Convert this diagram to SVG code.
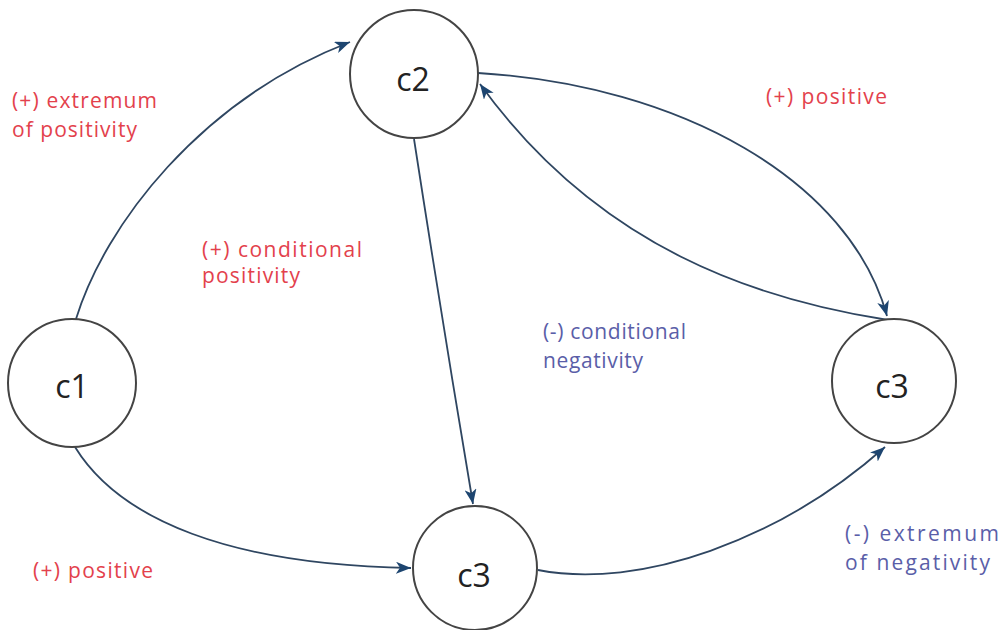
<svg xmlns="http://www.w3.org/2000/svg" width="1002" height="630" viewBox="0 0 1002 630">
<defs>
<style>
.node circle{fill:#fff;stroke:#444;stroke-width:2}
.node text{font-family:"Open Sans","Liberation Sans",sans-serif;font-size:32px;fill:#222;text-anchor:middle}
.edge{fill:none;stroke:#2f4661;stroke-width:1.8;marker-end:url(#arr)}
.lbl{font-family:"Open Sans","Liberation Sans",sans-serif;font-size:21px}
.pos{fill:#e3414c}
.neg{fill:#5a5ea8}
</style>
<marker id="arr" markerWidth="16" markerHeight="12" refX="15" refY="6" orient="auto" markerUnits="userSpaceOnUse">
<path d="M0,0 L15,6 L0,12 L4,6 Z" fill="#1d4570"/>
</marker>
</defs>
<rect width="1002" height="630" fill="#fff"/>
<g id="connectors">
<path class="edge" d="M76,319 C105,225 200,100 350,42"/>
<path class="edge" d="M414,139 Q442,320 473,504"/>
<path class="edge" d="M478,73 C680,85 850,180 887,316"/>
<path class="edge" d="M888,320 C760,300 600,250 480,84"/>
<path class="edge" d="M75,447 C120,520 230,565 411,568"/>
<path class="edge" d="M538,570 C640,590 780,540 885,447"/>
</g>
<g id="c1" class="node"><circle cx="72" cy="383" r="64"/><text x="72" y="398">c1</text></g>
<g id="c2" class="node"><circle cx="414" cy="74" r="64"/><text x="413" y="91">c2</text></g>
<g id="c3a" class="node"><circle cx="475" cy="568" r="62"/><text x="474" y="587">c3</text></g>
<g id="c3b" class="node"><circle cx="894" cy="381" r="62"/><text x="892" y="398">c3</text></g>
<g id="labels">
<text class="lbl pos" x="12" y="108" textLength="145" lengthAdjust="spacing">(+) extremum</text>
<text class="lbl pos" x="12" y="137" textLength="125" lengthAdjust="spacing">of positivity</text>
<text class="lbl pos" x="202" y="257" textLength="160" lengthAdjust="spacing">(+) conditional</text>
<text class="lbl pos" x="202" y="283" textLength="98" lengthAdjust="spacing">positivity</text>
<text class="lbl neg" x="543" y="339" textLength="143" lengthAdjust="spacing">(-) conditional</text>
<text class="lbl neg" x="543" y="368" textLength="100" lengthAdjust="spacing">negativity</text>
<text class="lbl pos" x="766" y="104" textLength="121" lengthAdjust="spacing">(+) positive</text>
<text class="lbl pos" x="33" y="578" textLength="120" lengthAdjust="spacing">(+) positive</text>
<text class="lbl neg" x="845" y="541" textLength="154" lengthAdjust="spacing">(-) extremum</text>
<text class="lbl neg" x="845" y="570" textLength="145" lengthAdjust="spacing">of negativity</text>
</g>
</svg>
